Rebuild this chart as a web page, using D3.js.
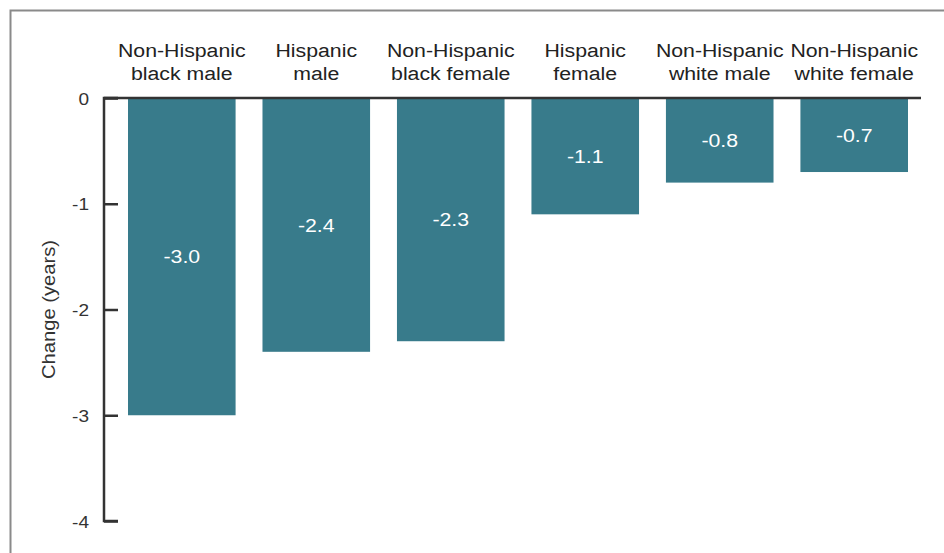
<!DOCTYPE html>
<html><head><meta charset="utf-8">
<script src="https://cdn.jsdelivr.net/npm/d3@7"></script>
<style>body{margin:0;background:#fff}svg{display:block}text{font-family:"Liberation Sans",Arial,sans-serif}</style>
</head><body>
<svg id="c" width="944" height="553"></svg>
<script>
const categories = [
  ["Non-Hispanic","black male"],
  ["Hispanic","male"],
  ["Non-Hispanic","black female"],
  ["Hispanic","female"],
  ["Non-Hispanic","white male"],
  ["Non-Hispanic","white female"]
];
const values = [-3.0, -2.4, -2.3, -1.1, -0.8, -0.7];
const yTicks = [0, -1, -2, -3, -4];
const yLabel = "Change (years)";
const SX = 1.12; // horizontal stretch of the original typeface

const svg = d3.select("#c");
// frame
svg.append("path").attr("d","M10.5,553 V10.5 H944").attr("fill","none").attr("stroke","#8a8a8a").attr("stroke-width",2);

const x = d3.scaleBand().domain(d3.range(categories.length)).range([128, 908]).paddingInner(0.2).paddingOuter(0);
const y = d3.scaleLinear().domain([0, -4]).range([98, 521]);

svg.selectAll("rect.bar").data(values).join("rect").attr("class","bar")
  .attr("x",(d,i)=>x(i)).attr("width",x.bandwidth())
  .attr("y",y(0)).attr("height",d=>y(d)-y(0))
  .attr("fill","#387b8b");

// y axis
const yAxis = d3.axisRight(y).tickValues(yTicks).tickSize(14).tickFormat(d=>d3.format("d")(d).replace("−","-"));
const gy = svg.append("g").attr("transform","translate(104,0)").call(yAxis);
gy.select(".domain").attr("stroke","#333").attr("stroke-width",2.5).attr("d","M14,"+y(0)+"H0V"+y(-4)+"H14");
gy.selectAll(".tick line").attr("stroke","#333").attr("stroke-width",2.5);
gy.selectAll(".tick text").attr("x",0).attr("text-anchor","end").attr("font-size",17).attr("fill","#333").attr("dy","0.36em")
  .attr("transform","translate(-15,0) scale("+SX+",1)");

// zero line
svg.append("line").attr("x1",104).attr("x2",921).attr("y1",y(0)).attr("y2",y(0)).attr("stroke","#333").attr("stroke-width",2.5);

// y label
svg.append("text").attr("transform","translate(55,"+y(-2)+") rotate(-90) scale("+SX+",1)")
  .attr("text-anchor","middle").attr("font-size",18).attr("fill","#333").text(yLabel);

// category labels
const cl = svg.selectAll("g.cat").data(categories).join("g").attr("class","cat")
  .attr("transform",(d,i)=>"translate("+(x(i)+x.bandwidth()/2)+",0) scale("+SX+",1)");
cl.each(function(d){
  const g=d3.select(this);
  d.forEach((line,j)=>g.append("text").attr("x",0).attr("y",57+j*23)
    .attr("text-anchor","middle").attr("font-size",19).attr("fill","#222").text(line));
});

// value labels
svg.selectAll("text.val").data(values).join("text").attr("class","val")
  .attr("transform",(d,i)=>"translate("+(x(i)+x.bandwidth()/2)+","+((y(0)+y(d))/2)+") scale("+SX+",1)")
  .attr("dy","0.35em")
  .attr("text-anchor","middle").attr("font-size",19).attr("fill","#fff")
  .text(d=>d3.format(".1f")(d).replace("−","-"));
</script>
</body></html>
